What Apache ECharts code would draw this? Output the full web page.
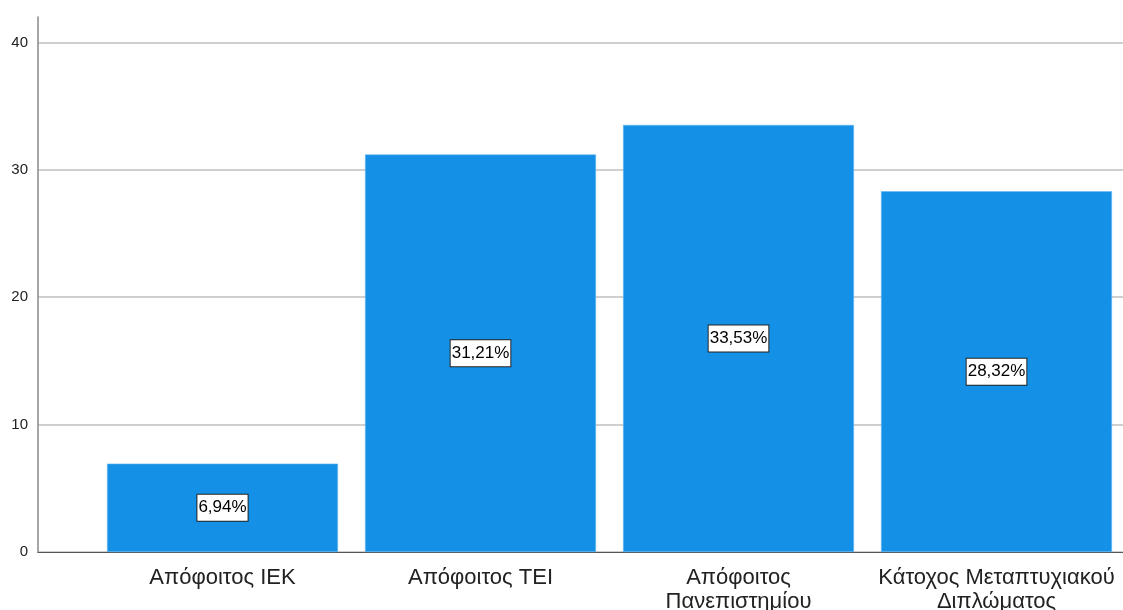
<!DOCTYPE html>
<html>
<head>
<meta charset="utf-8">
<script src="https://cdn.jsdelivr.net/npm/echarts@6/dist/echarts.min.js"></script>
<style>html,body{margin:0;padding:0;background:#fff}#c{width:1123px;height:610px}</style>
</head>
<body>
<div id="c"></div>
<script>
const categories = ['Απόφοιτος ΙΕΚ', 'Απόφοιτος ΤΕΙ', 'Απόφοιτος\nΠανεπιστημίου', 'Κάτοχος Μεταπτυχιακού\nΔιπλώματος'];
const values = [6.94, 31.21, 33.53, 28.32];
const yTicks = [0, 10, 20, 30, 40];

const chart = echarts.init(document.getElementById('c'), null, {renderer: 'canvas'});
const fontFam = '"Liberation Sans", Arial, sans-serif';
chart.setOption({
  animation: false,
  backgroundColor: '#fff',
  grid: [
    {left: 38, right: 0, top: 17, bottom: 58, containLabel: false, outerBoundsMode: 'none'},
    {left: 93.5, right: -2.5, top: 17, bottom: 58, containLabel: false, outerBoundsMode: 'none'}
  ],
  xAxis: [
    {gridIndex: 0, type: 'value', min: 0, max: 1,
     axisLine: {show: true, lineStyle: {color: '#555', width: 1.2}},
     axisTick: {show: false}, axisLabel: {show: false}, splitLine: {show: false}},
    {gridIndex: 1, type: 'category', data: categories,
     axisLine: {show: false}, axisTick: {show: false},
     axisLabel: {color: '#222', fontSize: 22, fontFamily: fontFam, lineHeight: 24, margin: 14, interval: 0}}
  ],
  yAxis: [
    {gridIndex: 0, type: 'value', min: 0, max: 42, interval: 10,
     axisLine: {show: true, lineStyle: {color: '#888', width: 1.5}},
     axisTick: {show: false},
     axisLabel: {color: '#222', fontSize: 15, fontFamily: fontFam, margin: 10, showMaxLabel: false,
       formatter: v => yTicks.includes(v) ? String(v) : ''},
     splitLine: {show: true, showMaxLine: false, lineStyle: {color: '#cfcfcf', width: 2}}},
    {gridIndex: 1, type: 'value', min: 0, max: 42, show: false, splitLine: {show: false}}
  ],
  series: [{
    type: 'bar', xAxisIndex: 1, yAxisIndex: 1,
    data: values, barWidth: 231,
    itemStyle: {color: '#1490E6', borderColor: '#6ab8ef', borderWidth: 0.6},
    label: {
      show: true, position: 'inside',
      formatter: p => p.value.toFixed(2).replace('.', ',') + '%',
      color: '#000', fontSize: 17, fontFamily: fontFam, lineHeight: 19,
      backgroundColor: '#fff', borderColor: '#222', borderWidth: 1, padding: [4, 1, 3, 1]
    }
  }]
});
</script>
</body>
</html>
